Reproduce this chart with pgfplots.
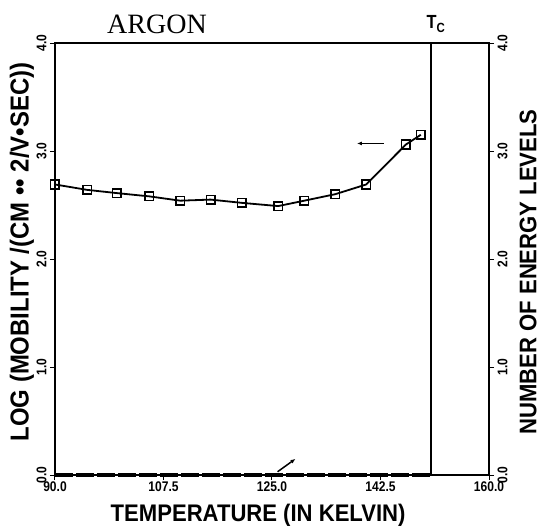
\documentclass[border=0pt]{standalone}
\usepackage{fontspec}
\setmainfont{Liberation Serif}
\setsansfont{Liberation Sans}
\newfontfamily\lab[FakeStretch=0.86]{Liberation Sans}
\newfontfamily\labw[FakeStretch=0.92]{Liberation Sans}
\usepackage{pgfplots}
\pgfplotsset{compat=1.18}
\usetikzlibrary{arrows.meta}

\pgfplotsset{
  common/.style={
    at={(0,0)}, anchor=south west, scale only axis,
    width=434pt, height=432pt, clip=false,
    xmin=90, xmax=160, ymin=0, ymax=4,
    axis line style={line width=1.3pt},
    tick style={line width=1pt, black},
    major tick length=5pt, tick align=outside,
    ytick={0,1,2,3,4}, yticklabels={0.0,1.0,2.0,3.0,4.0},
  }
}

\begin{document}
\begin{tikzpicture}
\useasboundingbox (-55pt,-50pt) rectangle (486pt,475pt);
\begin{axis}[common,
  axis x line=none, axis y line*=right, ytick pos=right,
  yticklabel style={font=\lab\bfseries\fontsize{14}{14}\selectfont, rotate=90, anchor=north, xshift=0pt},
  ylabel={NUMBER OF ENERGY LEVELS},
  ylabel style={font=\labw\bfseries\fontsize{24}{24}\selectfont, at={(axis description cs:1.09,0.47)}, anchor=center, rotate=0},
]
\end{axis}
\begin{axis}[common,
  xtick={90,107.5,125,142.5,160},
  xticklabels={90.0,107.5,125.0,142.5,160.0},
  xtick pos=left, ytick pos=left,
  xticklabel style={font=\lab\bfseries\fontsize{14}{14}\selectfont, yshift=2pt},
  yticklabel style={font=\lab\bfseries\fontsize{14}{14}\selectfont, rotate=90, anchor=south, xshift=0pt},
  xlabel={TEMPERATURE (IN KELVIN)},
  xlabel style={font=\labw\bfseries\fontsize{24}{24}\selectfont, at={(axis description cs:0.468,-0.0926)}, anchor=center},
  ylabel={LOG (MOBILITY /(CM •• 2/V•SEC))},
  ylabel style={font=\labw\bfseries\fontsize{26}{26}\selectfont, at={(axis description cs:-0.076,0.516)}, anchor=center},
]
\addplot[black, line width=1.8pt, mark=square, mark size=4.3pt,
  mark options={solid, fill=white, line width=1.6pt}] coordinates {
  (90,2.69)(95.2,2.64)(100,2.61)(105.2,2.58)(110.2,2.54)
  (115.1,2.55)(120.1,2.52)(126,2.49)(130.2,2.54)(135.2,2.60)
  (140.2,2.69)(146.6,3.06)(149,3.15)
};
\addplot[black, line width=4pt, dash pattern=on 18pt off 3pt] coordinates {(90,0)(150.7,0)};
\draw[line width=1.8pt] (axis cs:150.7,0) -- (axis cs:150.7,4);
\draw[line width=1.5pt, -{Latex[length=5pt,width=4pt]}] (axis cs:143,3.07) -- (axis cs:138.7,3.07);
\draw[line width=1.5pt, -{Latex[length=5pt,width=4pt]}] (axis cs:125.9,0.03) -- (axis cs:128.8,0.15);
\node[font=\fontsize{28}{28}\selectfont] at (axis description cs:0.235,1) [yshift=19pt] {ARGON};
\node[font=\lab\bfseries\fontsize{19}{19}\selectfont] at (axis description cs:0.878,1) [yshift=19pt] {T\textsubscript{C}};
\end{axis}
\end{tikzpicture}
\end{document}
